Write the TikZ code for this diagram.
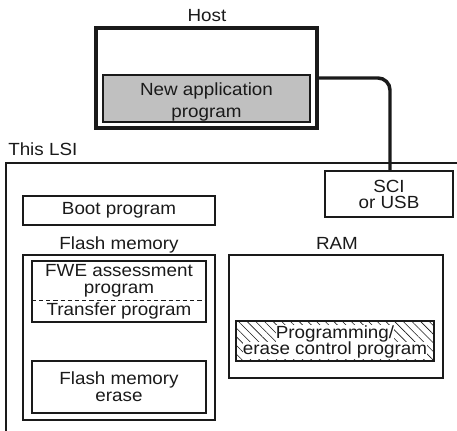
\documentclass[tikz,border=0pt]{standalone}
\usepackage{fontspec}
\setmainfont{Liberation Sans}[FakeStretch=1.07]
\usetikzlibrary{patterns.meta}
\definecolor{ink}{HTML}{1A1A1A}
\definecolor{appgray}{HTML}{C0C0C0}
\newcommand{\wbg}[1]{{\setlength{\fboxsep}{0pt}\colorbox{white}{#1}}}
\begin{document}
\begin{tikzpicture}[x=0.75pt,y=-0.75pt,
  every node/.style={font=\fontsize{13.2}{12.5}\selectfont, text=ink},
  txt/.style={align=center, inner sep=0pt},
  thinbox/.style={draw=ink, line width=1pt, inner sep=0pt, align=center},
  thickbox/.style={draw=ink, line width=2.3pt, inner sep=0pt},
  conn/.style={draw=ink, line width=2.6pt, rounded corners=9pt},
  lbl/.style={anchor=base, inner sep=0pt}]
\useasboundingbox (0,0) rectangle (457,430);

% Host
\node[lbl] (hostlbl) at (207,21) {Host};
\node[thickbox, minimum width=221*0.75pt, minimum height=100*0.75pt] (host) at (206.5,78) {};
\node[thinbox, fill=appgray, minimum width=207*0.75pt, minimum height=47*0.75pt] (app) at (206.5,98.5) {};
\node[txt, font=\fontsize{13.2}{16.3}\selectfont] (apptext) at (206.5,102) {New application\\program};

% LSI
\node[lbl, anchor=base west] (lsilbl) at (8,155) {This LSI};
\coordinate (lsibl) at (6,431);
\coordinate (lsitl) at (6,163);
\coordinate (lsitr) at (458,163);
\draw[ink, line width=1.8pt] (lsibl) -- (lsitl) -- (lsitr);

% SCI
\node[thinbox, minimum width=128*0.75pt, minimum height=46*0.75pt, font=\fontsize{13.2}{12}\selectfont] (sci) at (389,194) {SCI\\or USB};
\coordinate (bend) at (390,78);
\draw[conn] (host.east |- bend) -- (bend) -- (sci.north -| bend);

% Boot
\node[thinbox, minimum width=192*0.75pt, minimum height=29*0.75pt] (boot) at (119,210.5) {Boot program};

% Labels
\node[lbl] (flashlbl) at (119,249.3) {Flash memory};
\node[lbl] (ramlbl) at (337,249.3) {RAM};

% Flash memory
\node[thinbox, minimum width=192*0.75pt, minimum height=165*0.75pt] (flash) at (119,337.5) {};
\node[thinbox, minimum width=174*0.75pt, minimum height=61*0.75pt] (fwe) at (119,291.5) {};
\node[txt, minimum width=174*0.75pt, minimum height=39*0.75pt] (fweup) at (119,280.5) {FWE assessment\\program};
\node[txt] (transfer) at (119,311) {Transfer program};
\draw[ink, line width=1pt, dash pattern=on 3.2pt off 2.2pt] (fweup.south west) -- (fweup.south east);
\node[thinbox, minimum width=174*0.75pt, minimum height=52*0.75pt] (erase) at (119,387) {Flash memory\\erase};

% RAM
\node[thinbox, minimum width=214*0.75pt, minimum height=123*0.75pt] (ram) at (336,316.5) {};
\node[thinbox, minimum width=198*0.75pt, minimum height=40*0.75pt,
  pattern={Lines[angle=-45,distance=4.6pt,line width=0.45pt]}, pattern color=ink] (prog) at (335,341) {};
\node[txt] (progtext) at (335,342) {\wbg{Programming/}\\\wbg{erase control program}};
\end{tikzpicture}
\end{document}
